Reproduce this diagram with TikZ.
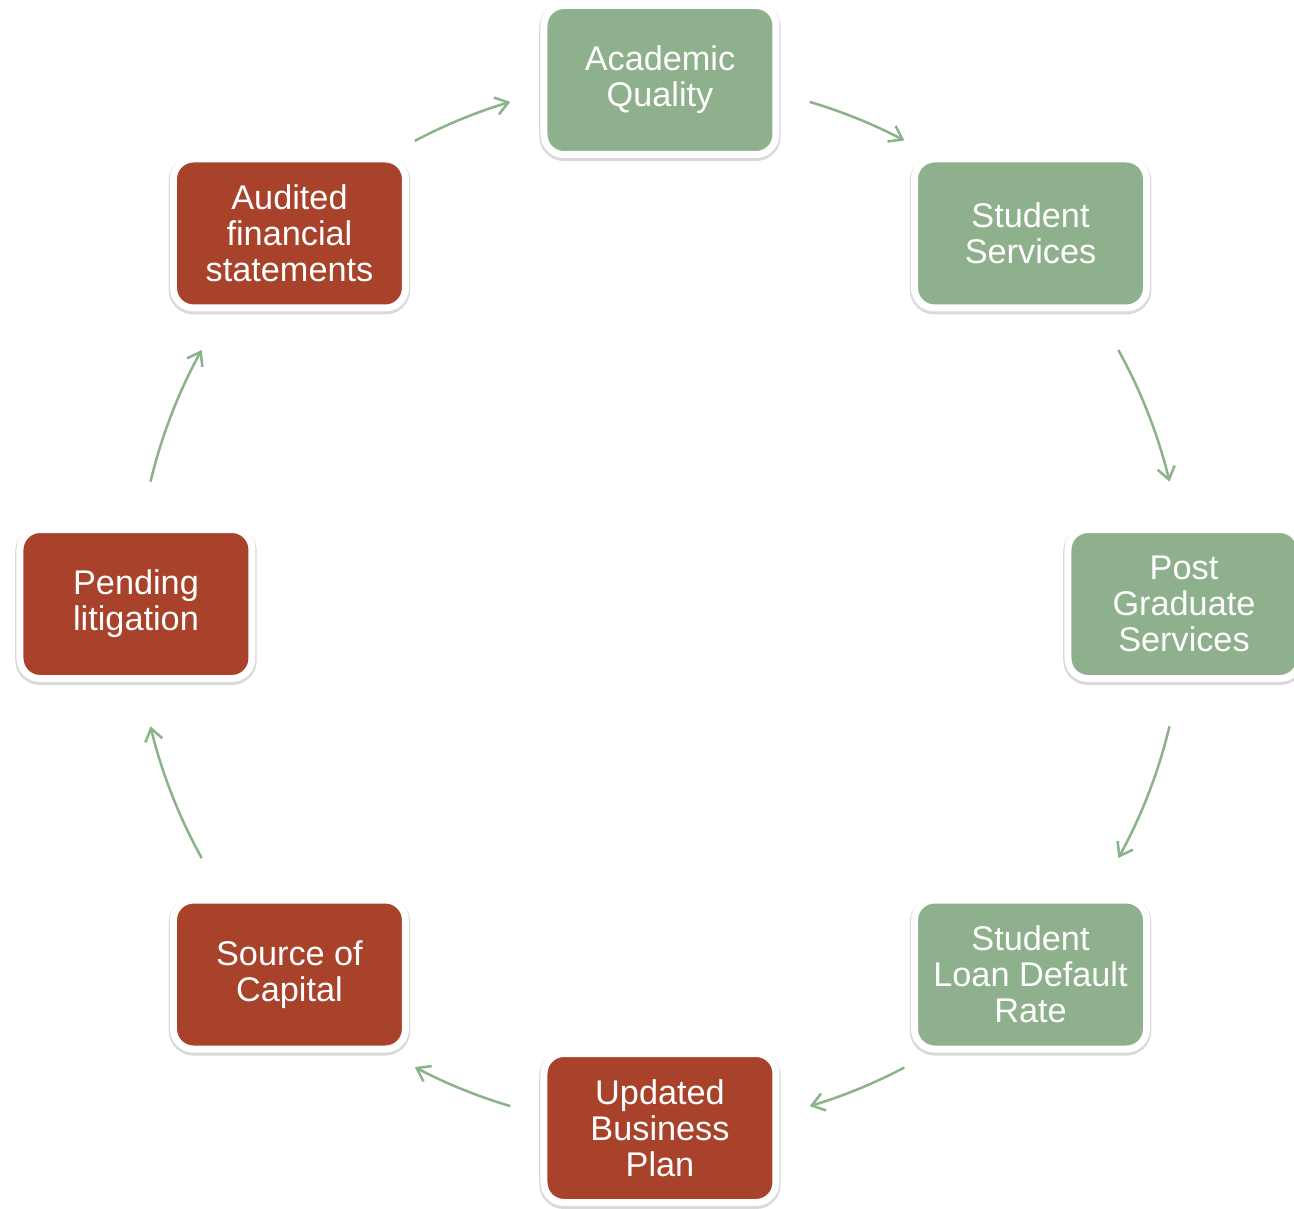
\documentclass[tikz,border=0pt]{standalone}
\usepackage{fontspec}
\setmainfont{Liberation Sans}
\usepackage{tikz}
\usetikzlibrary{arrows.meta,calc,positioning,shadows}
\definecolor{cgreen}{RGB}{143,176,140}
\definecolor{cred}{RGB}{168,66,43}
\definecolor{carrow}{RGB}{140,178,138}
\tikzset{cycle box/.style={
    rounded corners=0.4cm,
    minimum width=4.64cm, minimum height=2.98cm,
    draw=white, line width=0.14cm,
    fill=#1, text=white, align=center, inner sep=2pt,
    font=\fontsize{19.5}{20.5}\selectfont,
    preaction={draw=black!15, line width=0.19cm, transform canvas={yshift=-1pt}}
  },
  cycle box/.default=cgreen,
  cycle arrow/.style={
    draw=carrow, line width=0.05cm,
    -{Straight Barb[length=7pt,width=10pt]}
  }
}

\begin{document}
\begin{tikzpicture}
    \useasboundingbox (-13.2,-12.1) rectangle (12.68,12.08);
    % boxes round the cycle
    \foreach \ang/\name/\col/\txt in {
        90/aq/cgreen/{Academic\\Quality},
        45/ss/cgreen/{Student\\Services},
        0/pgs/cgreen/{Post\\Graduate\\Services},
        -45/sldr/cgreen/{Student\\Loan Default\\Rate},
        -90/ubp/cred/{Updated\\Business\\Plan},
        -135/soc/cred/{Source of\\Capital},
        180/pl/cred/{Pending\\litigation},
        135/afs/cred/{Audited\\financial\\statements}} {
        \node[cycle box=\col] (\name) at (\ang:10.48) {\txt};
    }
    % arrows between them
    \foreach \a/\b [count=\i] in {117.9/106.6, 73.4/62.2, 29/13.5, -13.5/-29,
        -62.2/-73.4, -106.6/-117.9, -151/-166.5, 166.5/151} {
        \coordinate (tail\i) at (\a:10.48);
        \draw[cycle arrow] (tail\i) arc[start angle=\a, end angle=\b, radius=10.48cm];
    }
\end{tikzpicture}
\end{document}
